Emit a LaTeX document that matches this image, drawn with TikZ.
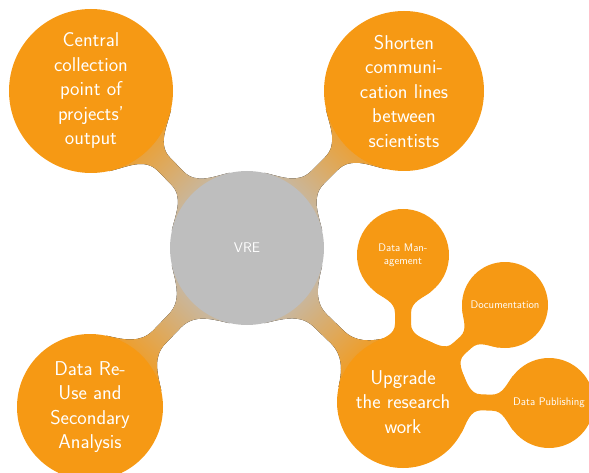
\documentclass[tikz,border=0pt]{standalone}
\usetikzlibrary{calc}
\definecolor{myorange}{RGB}{246,153,20}
\definecolor{mygray}{RGB}{190,190,190}
\pgfdeclarelayer{bg}
\pgfsetlayers{bg,main}
% #1 node a, #2 node b, #3 direction a->b, #4 spread at a, #5 spread at b, #6 half neck width, #7 fill options
\newcommand\conbar[7]{%
  \pgfmathtruncatemacro\cbAa{mod(#3+#4+720,360)}%
  \pgfmathtruncatemacro\cbAb{mod(#3-#4+720,360)}%
  \pgfmathtruncatemacro\cbBa{mod(#3+180-#5+720,360)}%
  \pgfmathtruncatemacro\cbBb{mod(#3+180+#5+720,360)}%
  \pgfmathtruncatemacro\cbT{mod(#3+720,360)}%
  \pgfmathtruncatemacro\cbTb{mod(#3+180+720,360)}%
  \pgfmathtruncatemacro\cbL{mod(#3+90+720,360)}%
  \pgfmathtruncatemacro\cbR{mod(#3-90+720,360)}%
  \pgfmathtruncatemacro\cbOA{#3+#4-90}%
  \pgfmathtruncatemacro\cbIB{#3-90-#5}%
  \pgfmathtruncatemacro\cbOB{#3+90+#5}%
  \pgfmathtruncatemacro\cbIA{#3-#4+90}%
  \coordinate (cbma) at ($(#1.\cbT)!0.35!(#2.\cbTb)$);
  \coordinate (cbmb) at ($(#1.\cbT)!0.65!(#2.\cbTb)$);
  \fill[#7] (#1.\cbAa) to[out=\cbOA,in=\cbTb] ($(cbma)+(\cbL:#6)$)
    -- ($(cbmb)+(\cbL:#6)$) to[out=\cbT,in=\cbIB] (#2.\cbBa)
    -- (#2.\cbBb) to[out=\cbOB,in=\cbT] ($(cbmb)+(\cbR:#6)$)
    -- ($(cbma)+(\cbR:#6)$) to[out=\cbTb,in=\cbIA] (#1.\cbAb) -- cycle;
}
\begin{document}
\begin{tikzpicture}[x=1pt,y=1pt,
  bub/.style={circle, fill=myorange, text=white, align=center, inner sep=0pt,
    font=\sffamily\fontsize{20}{24.5}\selectfont},
  small/.style={bub, font=\sffamily\fontsize{11}{13}\selectfont},
  root/.style={circle, fill=mygray, text=white, align=center, inner sep=0pt,
    font=\sffamily\fontsize{14}{17}\selectfont}]
\useasboundingbox (0,0) rectangle (589,472);
\node[root, minimum size=154] (vre) at (247,224) {VRE};
\node[bub, minimum size=164] (cc) at (91,381) {Central\\collection\\point of\\projects'\\output};
\node[bub, minimum size=160] (sh) at (404,381) {Shorten\\communi-\\cation lines\\between\\scientists};
\node[bub, minimum size=146] (dr) at (90,65) {Data Re-\\Use and\\Secondary\\Analysis};
\node[bub, minimum size=132] (up) at (403,70) {Upgrade\\the research\\work};
\node[small, minimum size=92] (dm) at (403,217) {Data Man-\\agement};
\node[small, minimum size=86] (doc) at (505,167) {Documentation};
\node[small, minimum size=90] (dp) at (549,69) {Data Publishing};
\begin{pgfonlayer}{bg}
\conbar{vre}{cc}{135}{32}{32}{9}{bottom color=mygray, top color=myorange, shading angle=45}
\conbar{vre}{sh}{45}{32}{32}{9}{bottom color=mygray, top color=myorange, shading angle=-45}
\conbar{vre}{dr}{225}{32}{32}{9}{bottom color=mygray, top color=myorange, shading angle=135}
\conbar{vre}{up}{-45}{32}{32}{9}{bottom color=mygray, top color=myorange, shading angle=-135}
\conbar{up}{dm}{90}{28}{38}{8}{fill=myorange}
\conbar{up}{doc}{44}{28}{38}{8}{fill=myorange}
\conbar{up}{dp}{0}{28}{38}{8}{fill=myorange}
\end{pgfonlayer}
\end{tikzpicture}
\end{document}
